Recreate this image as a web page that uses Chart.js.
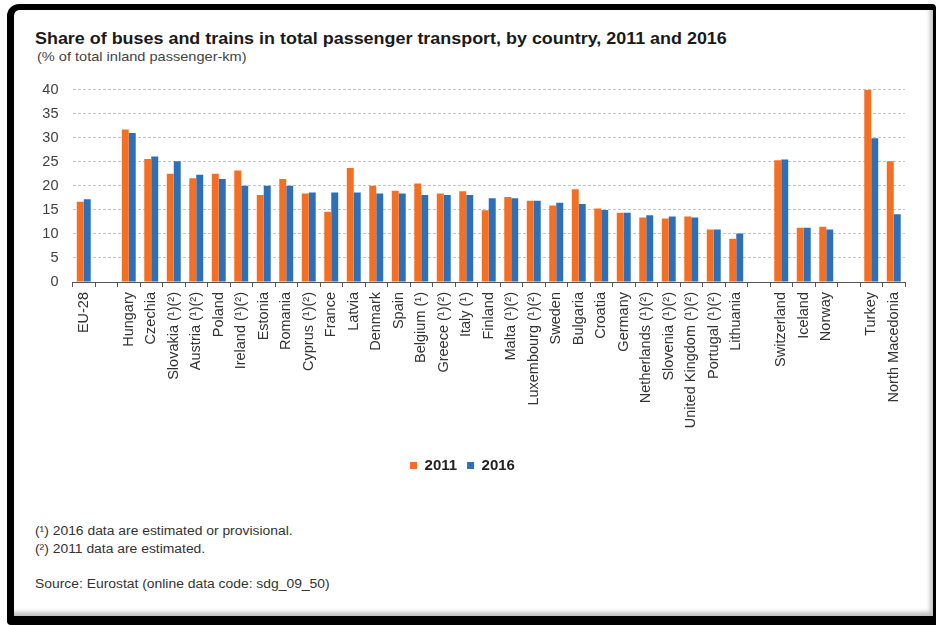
<!DOCTYPE html>
<html>
<head>
<meta charset="utf-8">
<script src="https://cdn.jsdelivr.net/npm/chart.js@4"></script>
<style>
  html, body { margin: 0; padding: 0; background: #fff; }
  body { width: 936px; height: 625px; position: relative; overflow: hidden;
         font-family: "Liberation Sans", Arial, sans-serif; }
  #frame { position: absolute; left: 7px; top: 4px; width: 919px; height: 606px;
           border-style: solid; border-color: #000; border-width: 6px 3px 9px 7px;
           border-radius: 12px 4px 0 4px; background: #fff;
           box-shadow: inset -3px -4px 4px rgba(0,0,0,0.25); }
  .txt { position: absolute; white-space: nowrap; color: #333; transform-origin: 0 50%; }
  #title { left: 35px; top: 30px; font-size: 16px; font-weight: bold; color: #1a1a1a;
           transform: scaleX(1.12); }
  #subtitle { left: 37px; top: 49px; font-size: 13px; color: #444; transform: scaleX(1.12); }
  .note { left: 35px; font-size: 12.5px; color: #333; transform: scaleX(1.11); }
  #chartBox { position: absolute; left: 20px; top: 67px; width: 900px; height: 416px; }
</style>
</head>
<body>
<div id="frame"></div>
<div class="txt" id="title">Share of buses and trains in total passenger transport, by country, 2011 and 2016</div>
<div class="txt" id="subtitle">(% of total inland passenger-km)</div>
<div id="chartBox"><canvas id="mainChart"></canvas></div>
<div class="txt note" style="top:524px">(¹) 2016 data are estimated or provisional.</div>
<div class="txt note" style="top:542px">(²) 2011 data are estimated.</div>
<div class="txt note" style="top:577px">Source: Eurostat (online data code: sdg_09_50)</div>

<script>
// Categories ('' = spacer slot between country groups)
const countries = [
    'EU-28', '',
    'Hungary', 'Czechia', 'Slovakia (¹)(²)', 'Austria (¹)(²)', 'Poland', 'Ireland (¹)(²)',
    'Estonia', 'Romania', 'Cyprus (¹)(²)', 'France', 'Latvia', 'Denmark', 'Spain',
    'Belgium (¹)', 'Greece (¹)(²)', 'Italy (¹)', 'Finland', 'Malta (¹)(²)',
    'Luxembourg (¹)(²)', 'Sweden', 'Bulgaria', 'Croatia', 'Germany', 'Netherlands (¹)(²)',
    'Slovenia (¹)(²)', 'United Kingdom (¹)(²)', 'Portugal (¹)(²)', 'Lithuania', '',
    'Switzerland', 'Iceland', 'Norway', '',
    'Turkey', 'North Macedonia'
];

const values2011 = [
    16.7, null,
    31.7, 25.6, 22.5, 21.6, 22.5, 23.2,
    18.1, 21.4, 18.4, 14.6, 23.7, 20.0, 19.0,
    20.5, 18.4, 18.9, 14.9, 17.7,
    16.9, 15.9, 19.3, 15.3, 14.4, 13.4,
    13.2, 13.6, 10.9, 9.0, null,
    25.3, 11.3, 11.5, null,
    40.0, 25.1
];

const values2016 = [
    17.2, null,
    31.0, 26.1, 25.1, 22.3, 21.4, 20.0,
    20.0, 20.0, 18.6, 18.6, 18.6, 18.4, 18.4,
    18.1, 18.1, 18.1, 17.4, 17.4,
    16.9, 16.5, 16.2, 15.0, 14.4, 13.9,
    13.6, 13.4, 10.9, 10.1, null,
    25.5, 11.3, 10.9, null,
    29.9, 14.1
];

const yTicks = [0, 5, 10, 15, 20, 25, 30, 35, 40];

const ORANGE = '#F36F23';
const BLUE = '#2E70B8';
const FONT = '"Liberation Sans", Arial, sans-serif';

const ctx = document.getElementById('mainChart').getContext('2d');
new Chart(ctx, {
    type: 'bar',
    data: {
        labels: countries,
        datasets: [
            { label: '2011', data: values2011, backgroundColor: ORANGE,
              categoryPercentage: 0.62, barPercentage: 1.0 },
            { label: '2016', data: values2016, backgroundColor: BLUE,
              categoryPercentage: 0.62, barPercentage: 1.0 }
        ]
    },
    options: {
        responsive: true,
        maintainAspectRatio: false,
        animation: false,
        layout: { padding: { top: 9, right: 15, bottom: 0, left: 0 } },
        plugins: {
            legend: {
                position: 'bottom',
                labels: {
                    boxWidth: 7, boxHeight: 7, padding: 10,
                    color: '#222',
                    font: { family: FONT, size: 15, weight: 'bold' }
                }
            },
            tooltip: { enabled: false }
        },
        scales: {
            y: {
                min: 0, max: 40,
                afterFit: s => { s.width = 52.5; },
                afterBuildTicks: s => { s.ticks = yTicks.map(v => ({ value: v })); },
                grid: { color: '#c4c4c4', lineWidth: 1, drawTicks: false },
                border: { display: false, dash: [3, 2] },
                ticks: { padding: 14, color: '#404040', font: { family: FONT, size: 14.5 } }
            },
            x: {
                afterFit: s => { s.height = 166; },
                border: { display: true, color: '#555', width: 1 },
                grid: { display: true, drawOnChartArea: false, drawTicks: true,
                        tickLength: 5, color: '#555', offset: true },
                ticks: {
                    autoSkip: false, maxRotation: 90, minRotation: 90, padding: 5,
                    color: '#333', font: { family: FONT, size: 14.5 }
                }
            }
        }
    }
});
</script>
</body>
</html>
